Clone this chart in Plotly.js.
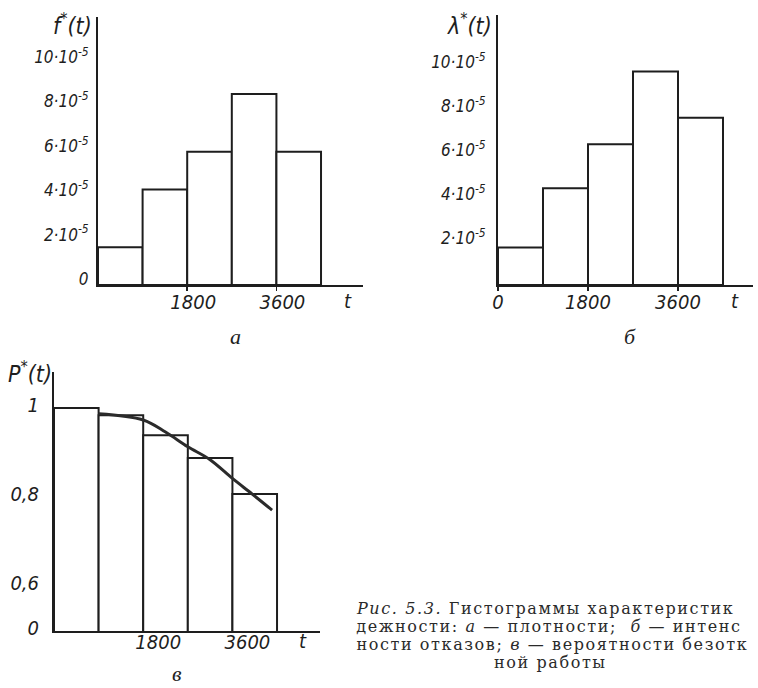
<!DOCTYPE html>
<html>
<head>
<meta charset="utf-8">
<script src="https://cdn.plot.ly/plotly-3.0.1.min.js"></script>
<style>
html,body{margin:0;padding:0;background:#fff;}
#chart{width:758px;height:688px;}
g.annotation[data-index="9"] text,
g.annotation[data-index="10"] text,
g.annotation[data-index="11"] text,
g.annotation[data-index="12"] text{letter-spacing:1.6px;}
</style>
</head>
<body>
<div id="chart"></div>
<script>
// ---- data ----
const binStart = [0, 900, 1800, 2700, 3600];        // t, interval starts
const binWidth = [900, 900, 900, 900, 900];        // interval length Δt
const fVals    = [1.7e-5, 4.3e-5, 6.0e-5, 8.6e-5, 6.0e-5];   // f*(t)
const lamVals  = [1.7e-5, 4.4e-5, 6.4e-5, 9.7e-5, 7.6e-5];   // λ*(t)
const pVals    = [1.0, 0.984, 0.939, 0.888, 0.807];          // P*(t)
const curveT   = [900, 1800, 2250, 2700, 3150, 3600, 4000, 4400];
const curveP   = [0.987, 0.973, 0.946, 0.913, 0.884, 0.842, 0.807, 0.771];

const fTickVals  = [0, 2e-5, 4e-5, 6e-5, 8e-5, 10e-5];
const fTickText  = ['0', '2·10<sup>-5</sup>', '4·10<sup>-5</sup>', '6·10<sup>-5</sup>', '8·10<sup>-5</sup>', '10·10<sup>-5</sup>'];
const lTickVals  = [2e-5, 4e-5, 6e-5, 8e-5, 10e-5];
const lTickText  = ['2·10<sup>-5</sup>', '4·10<sup>-5</sup>', '6·10<sup>-5</sup>', '8·10<sup>-5</sup>', '10·10<sup>-5</sup>'];
const pTickVals  = [0.5, 0.6, 0.8, 1.0];
const pTickText  = ['0', '0,6', '0,8', '1'];
const tTickVals  = [1800, 3600];
const tTickText  = ['1800', '3600'];
const t2TickVals = [0, 1800, 3600];
const t2TickText = ['0', '1800', '3600'];

const captionLines = [
  '<i>Рис. 5.3.</i> Гистограммы характеристик',
  'дежности: <i>а</i> — плотности;\u00a0\u00a0<i>б</i> — интенс',
  'ности отказов; <i>в</i> — вероятности безотк',
  'ной работы'
];

// ---- styling ----
const W = 758, H = 688;
const X = p => p / W;
const Y = p => 1 - p / H;
const ink = '#1e1e1e';
const LS = 1.6; // caption letter spacing (px), must match the CSS above
const tickFamily = '"DejaVu Sans Condensed", "Liberation Sans", sans-serif';
const xTickFont = {family: tickFamily, size: 20, color: ink, style: 'italic'};
const yTickFont = {family: tickFamily, size: 17, color: ink, style: 'italic'};

function axis(extra) {
  return Object.assign({
    showgrid: false, zeroline: false, showline: true, linecolor: ink, linewidth: 2,
    ticks: '', tickmode: 'array', fixedrange: true
  }, extra);
}

const barStyle = {color: 'white', line: {color: ink, width: 2}};

const traces = [
  {type: 'bar', x: binStart, y: fVals, width: binWidth, offset: 0, xaxis: 'x', yaxis: 'y', marker: barStyle},
  {type: 'bar', x: binStart, y: lamVals, width: binWidth, offset: 0, xaxis: 'x2', yaxis: 'y2', marker: barStyle},
  {type: 'bar', x: binStart, y: pVals, width: binWidth, offset: 0, xaxis: 'x3', yaxis: 'y3', marker: barStyle},
  {type: 'scatter', mode: 'lines', x: curveT, y: curveP, xaxis: 'x3', yaxis: 'y3',
   line: {shape: 'spline', color: '#2b2b2b', width: 3}}
];

const ann = (text, x, y, opts) => Object.assign({
  text: text, x: X(x), y: Y(y), xref: 'paper', yref: 'paper', showarrow: false,
  xanchor: 'center', yanchor: 'middle',
  font: {family: tickFamily, size: 20, color: ink, style: 'italic'}
}, opts || {});

const titleFont = {family: tickFamily, size: 23, color: ink, style: 'italic'};
const serifItalic = {family: '"Liberation Serif", serif', size: 22, color: ink, style: 'italic'};
const capFont = {family: '"DejaVu Serif", serif', size: 16, color: '#2a2a2a'};
// letter-spacing widens centred SVG text on both sides; offset left-anchored lines by half the growth
const capShift = s => s.replace(/<[^>]+>/g, '').length * LS / 2;

const annotations = [
  ann('f<sup>*</sup>(t)', 72, 24, {font: titleFont}),
  ann('λ<sup>*</sup>(t)', 469, 24, {font: titleFont}),
  ann('P<sup>*</sup>(t)', 30, 372, {font: titleFont}),
  ann('t', 348, 301),
  ann('t', 735, 301),
  ann('t', 303, 641),
  ann('а', 235, 336, {font: serifItalic}),
  ann('б', 630, 336, {font: serifItalic}),
  ann('в', 177, 673, {font: serifItalic}),
  ann(captionLines[0], 354 + capShift(captionLines[0]), 608, {xanchor: 'left', font: capFont}),
  ann(captionLines[1], 354 + capShift(captionLines[1]), 626, {xanchor: 'left', font: capFont}),
  ann(captionLines[2], 354 + capShift(captionLines[2]), 644, {xanchor: 'left', font: capFont}),
  ann(captionLines[3], 550, 662, {font: capFont})
];

const layout = {
  width: W, height: H,
  margin: {l: 0, r: 0, t: 0, b: 0},
  paper_bgcolor: '#ffffff', plot_bgcolor: 'rgba(0,0,0,0)',
  showlegend: false, bargap: 0,
  xaxis: axis({domain: [X(98), X(363)], range: [0, 5347], anchor: 'y',
               ticks: 'outside', ticklen: 4, tickwidth: 1.5, tickcolor: ink,
               tickfont: xTickFont, tickvals: tTickVals, ticktext: tTickText,
               ticklabelstandoff: -6, ticklabelshift: 6}),
  yaxis: axis({domain: [Y(285), Y(17)], range: [0, 12.07e-5], anchor: 'x',
               tickfont: yTickFont, tickvals: fTickVals, ticktext: fTickText,
               ticklabelstandoff: 4, ticklabelshift: -6}),
  xaxis2: axis({domain: [X(498), X(753)], range: [0, 5100], anchor: 'y2',
                ticks: 'outside', ticklen: 4, tickwidth: 1.5, tickcolor: ink,
                tickfont: xTickFont, tickvals: t2TickVals, ticktext: t2TickText,
                ticklabelstandoff: -6}),
  yaxis2: axis({domain: [Y(285), Y(15)], range: [0, 12.27e-5], anchor: 'x2',
                tickfont: yTickFont, tickvals: lTickVals, ticktext: lTickText,
                ticklabelstandoff: 7, ticklabelshift: -3}),
  xaxis3: axis({domain: [X(54), X(320)], range: [0, 5367], anchor: 'y3',
                tickfont: xTickFont, tickvals: tTickVals, ticktext: tTickText,
                ticklabelstandoff: -8, ticklabelshift: 15}),
  yaxis3: axis({domain: [Y(631), Y(372)], range: [0.5, 1.0807], anchor: 'x3',
                tickfont: xTickFont, tickvals: pTickVals, ticktext: pTickText,
                ticklabelstandoff: 9, ticklabelshift: -3}),
  annotations: annotations
};

Plotly.newPlot('chart', traces, layout, {staticPlot: true, displayModeBar: false});
</script>
</body>
</html>
